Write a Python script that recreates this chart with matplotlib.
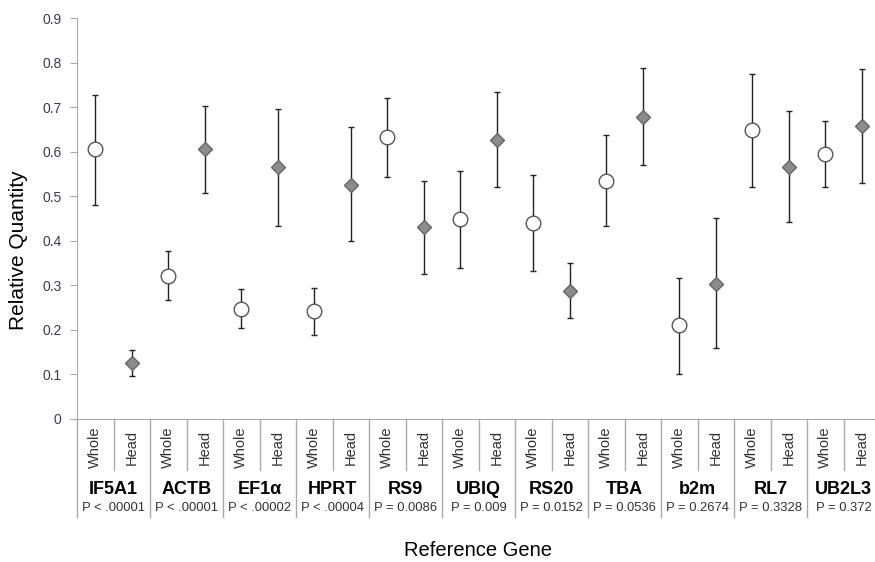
import matplotlib
matplotlib.use("Agg")
import matplotlib.pyplot as plt

plt.rcParams["font.family"] = ["Liberation Sans", "DejaVu Sans"]

genes = ["IF5A1", "ACTB", "EF1\u03b1", "HPRT", "RS9", "UBIQ", "RS20", "TBA", "b2m", "RL7", "UB2L3"]
pvals = ["P < .00001", "P < .00001", "P < .00002", "P < .00004", "P = 0.0086", "P = 0.009",
         "P = 0.0152", "P = 0.0536", "P = 0.2674", "P = 0.3328", "P = 0.372"]

whole = [0.605, 0.322, 0.248, 0.243, 0.632, 0.448, 0.440, 0.535, 0.210, 0.648, 0.594]
whole_hi = [0.728, 0.378, 0.292, 0.295, 0.720, 0.556, 0.548, 0.638, 0.317, 0.775, 0.668]
whole_lo = [0.480, 0.267, 0.205, 0.189, 0.543, 0.339, 0.333, 0.434, 0.102, 0.520, 0.520]

head = [0.125, 0.605, 0.565, 0.525, 0.430, 0.627, 0.288, 0.677, 0.304, 0.566, 0.657]
head_hi = [0.155, 0.703, 0.695, 0.655, 0.535, 0.733, 0.350, 0.787, 0.451, 0.692, 0.785]
head_lo = [0.097, 0.507, 0.433, 0.399, 0.326, 0.520, 0.226, 0.570, 0.160, 0.442, 0.530]

fig = plt.figure(figsize=(8.75, 5.62), dpi=100)
ax = fig.add_axes([77 / 875, 143 / 562, 803 / 875, 401 / 562])

xw = [2 * i for i in range(len(genes))]
xh = [2 * i + 1 for i in range(len(genes))]

ax.errorbar(xw, whole,
            yerr=[[v - l for v, l in zip(whole, whole_lo)], [h - v for v, h in zip(whole, whole_hi)]],
            fmt="none", ecolor="#222222", elinewidth=1, capsize=2.5, capthick=1, zorder=2)
ax.errorbar(xh, head,
            yerr=[[v - l for v, l in zip(head, head_lo)], [h - v for v, h in zip(head, head_hi)]],
            fmt="none", ecolor="#222222", elinewidth=1, capsize=2.5, capthick=1, zorder=2)
ax.plot(xw, whole, "o", ms=10.5, mfc="white", mec="#555555", mew=1, ls="none", zorder=3)
ax.plot(xh, head, "D", ms=7.5, mfc="#8c8c8c", mec="#666666", mew=1, ls="none", zorder=3)

ax.set_xlim(-0.5, 2 * len(genes) - 0.5)
ax.set_ylim(0, 0.9)
ax.set_yticks([i / 10 for i in range(10)])
ax.set_yticklabels(["0"] + ["%.1f" % (i / 10) for i in range(1, 10)])
ax.set_xticks([])
for s in ["top", "right"]:
    ax.spines[s].set_visible(False)
for s in ["left", "bottom"]:
    ax.spines[s].set_color("#aaaaaa")
ax.tick_params(axis="y", direction="out", length=5, color="#aaaaaa",
               labelsize=10, labelcolor="#3a3a50", pad=6)

tr = ax.get_xaxis_transform()
ax.plot([-0.5, -0.5], [0, -0.244], transform=tr, color="#aaaaaa", lw=1, clip_on=False)
for i in range(len(genes)):
    ax.plot([2 * i + 0.5] * 2, [0, -0.127], transform=tr, color="#aaaaaa", lw=1, clip_on=False)
    ax.plot([2 * i + 1.5] * 2, [0, -0.244], transform=tr, color="#aaaaaa", lw=1, clip_on=False)
    ax.text(2 * i, -0.07, "Whole", transform=tr, rotation=90, ha="center", va="center",
            fontsize=10.5, color="#333333")
    ax.text(2 * i + 1, -0.07, "Head", transform=tr, rotation=90, ha="center", va="center",
            fontsize=10.5, color="#333333")
    ax.text(2 * i + 0.5, -0.175, genes[i], transform=tr, ha="center", va="center",
            fontsize=13, fontweight="bold", color="black")
    ax.text(2 * i + 0.5, -0.222, pvals[i], transform=tr, ha="center", va="center",
            fontsize=9.4, color="#333333")

ax.set_ylabel("Relative Quantity", fontsize=15)
ax.yaxis.set_label_coords(-0.061, 0.42)
fig.text(478 / 875, 11 / 562, "Reference Gene", ha="center", va="center", fontsize=14.5)

fig.savefig("out.png", dpi=100)
